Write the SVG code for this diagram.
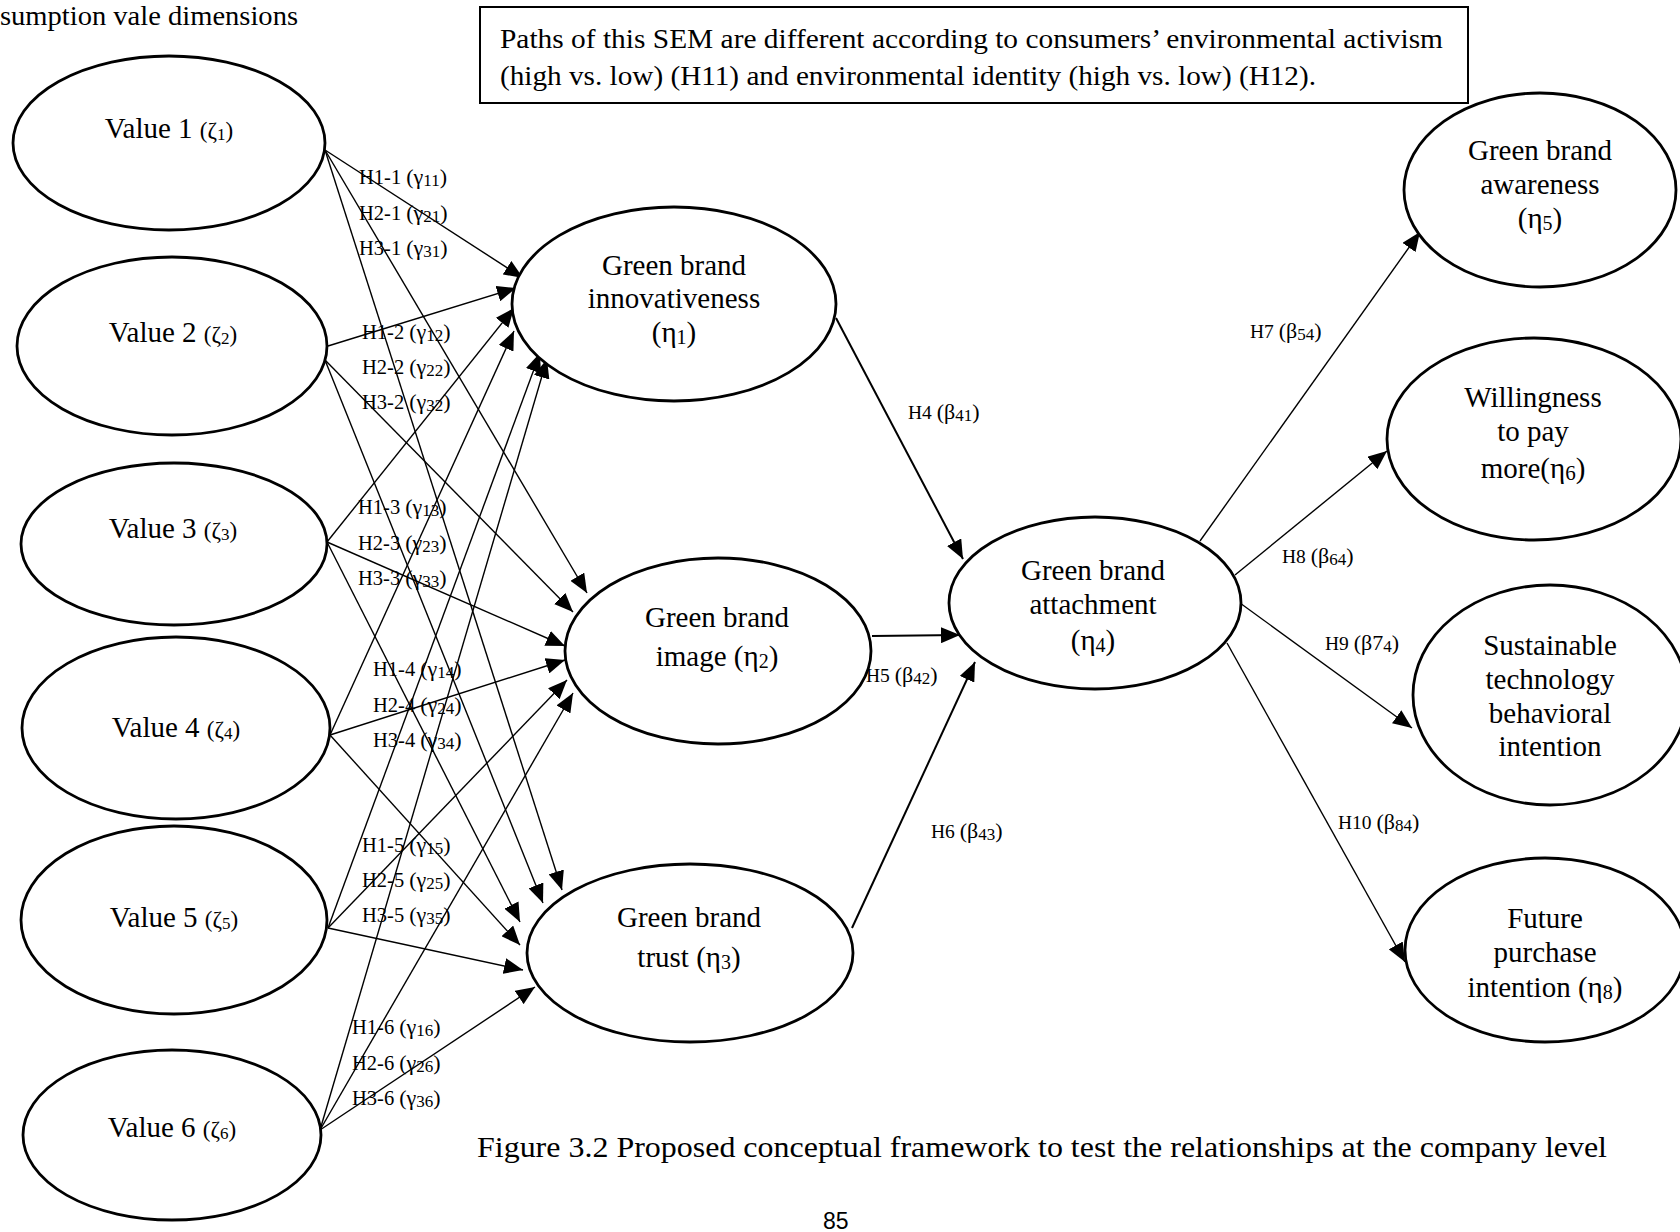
<svg xmlns="http://www.w3.org/2000/svg" width="1680" height="1232" viewBox="0 0 1680 1232">
<style>
.node ellipse{fill:#fff;stroke:#000;stroke-width:2.8}
.t{font-family:"Liberation Serif","Times New Roman",serif;fill:#000}
.nt{font-size:29px;text-anchor:middle}
.el{font-size:20.5px}
.er{font-size:19.5px}
.g{font-size:22px}
.sub{font-size:17px}
.ln{stroke:#000;stroke-width:1.4;fill:none;marker-end:url(#ah)}
.lt{stroke:#000;stroke-width:2;fill:none;marker-end:url(#ah)}
</style>
<defs>
<marker id="ah" markerUnits="userSpaceOnUse" markerWidth="20" markerHeight="16" refX="19" refY="8" orient="auto">
<path d="M0,0 L19,8 L0,16 z" fill="#000"/>
</marker>
</defs>
<rect width="1680" height="1232" fill="#fff"/>

<text class="t" x="0" y="25" font-size="27" textLength="298" lengthAdjust="spacingAndGlyphs">sumption vale dimensions</text>

<g id="note">
<rect x="480" y="7" width="988" height="96" fill="#fff" stroke="#000" stroke-width="2"/>
<text class="t" x="500" y="48" font-size="27" textLength="943" lengthAdjust="spacingAndGlyphs">Paths of this SEM are different according to consumers’ environmental activism</text>
<text class="t" x="500" y="85" font-size="27" textLength="816" lengthAdjust="spacingAndGlyphs">(high vs. low) (H11) and environmental identity (high vs. low) (H12).</text>
</g>

<g id="connectors">
<line class="ln" x1="325" y1="150" x2="523" y2="278"/>
<line class="ln" x1="325" y1="150" x2="587" y2="593"/>
<line class="ln" x1="325" y1="150" x2="562" y2="890"/>
<line class="ln" x1="328" y1="346" x2="516" y2="288"/>
<line class="ln" x1="325" y1="360" x2="573" y2="612"/>
<line class="ln" x1="325" y1="360" x2="543" y2="903"/>
<line class="ln" x1="327" y1="542" x2="514" y2="308"/>
<line class="ln" x1="327" y1="542" x2="565" y2="646"/>
<line class="ln" x1="327" y1="542" x2="520" y2="922"/>
<line class="ln" x1="330" y1="735" x2="514" y2="331"/>
<line class="ln" x1="330" y1="735" x2="565" y2="660"/>
<line class="ln" x1="330" y1="735" x2="520" y2="945"/>
<line class="ln" x1="328" y1="928" x2="540" y2="353"/>
<line class="ln" x1="328" y1="928" x2="567" y2="680"/>
<line class="ln" x1="328" y1="928" x2="523" y2="970"/>
<line class="ln" x1="320" y1="1130" x2="547" y2="359"/>
<line class="ln" x1="320" y1="1130" x2="573" y2="693"/>
<line class="ln" x1="320" y1="1130" x2="535" y2="987"/>
<line class="lt" x1="836" y1="318" x2="963" y2="559"/>
<line class="lt" x1="872" y1="636" x2="960" y2="635"/>
<line class="lt" x1="852" y1="928" x2="975" y2="662"/>
<line class="ln" x1="1200" y1="541" x2="1420" y2="232"/>
<line class="ln" x1="1235" y1="575" x2="1387" y2="451"/>
<line class="ln" x1="1240" y1="603" x2="1412" y2="728"/>
<line class="ln" x1="1227" y1="643" x2="1405" y2="962"/>
</g>

<g id="edge-labels" class="t">
<text class="el" x="359" y="184">H1-1 <tspan class="g">(γ</tspan><tspan class="sub" dy="2">11</tspan><tspan class="g" dy="-2">)</tspan></text>
<text class="el" x="359" y="220">H2-1 <tspan class="g">(γ</tspan><tspan class="sub" dy="2">21</tspan><tspan class="g" dy="-2">)</tspan></text>
<text class="el" x="359" y="255">H3-1 <tspan class="g">(γ</tspan><tspan class="sub" dy="2">31</tspan><tspan class="g" dy="-2">)</tspan></text>
<text class="el" x="362" y="339">H1-2 <tspan class="g">(γ</tspan><tspan class="sub" dy="2">12</tspan><tspan class="g" dy="-2">)</tspan></text>
<text class="el" x="362" y="374">H2-2 <tspan class="g">(γ</tspan><tspan class="sub" dy="2">22</tspan><tspan class="g" dy="-2">)</tspan></text>
<text class="el" x="362" y="409">H3-2 <tspan class="g">(γ</tspan><tspan class="sub" dy="2">32</tspan><tspan class="g" dy="-2">)</tspan></text>
<text class="el" x="358" y="514">H1-3 <tspan class="g">(γ</tspan><tspan class="sub" dy="2">13</tspan><tspan class="g" dy="-2">)</tspan></text>
<text class="el" x="358" y="550">H2-3 <tspan class="g">(γ</tspan><tspan class="sub" dy="2">23</tspan><tspan class="g" dy="-2">)</tspan></text>
<text class="el" x="358" y="585">H3-3 <tspan class="g">(γ</tspan><tspan class="sub" dy="2">33</tspan><tspan class="g" dy="-2">)</tspan></text>
<text class="el" x="373" y="676">H1-4 <tspan class="g">(γ</tspan><tspan class="sub" dy="2">14</tspan><tspan class="g" dy="-2">)</tspan></text>
<text class="el" x="373" y="712">H2-4 <tspan class="g">(γ</tspan><tspan class="sub" dy="2">24</tspan><tspan class="g" dy="-2">)</tspan></text>
<text class="el" x="373" y="747">H3-4 <tspan class="g">(γ</tspan><tspan class="sub" dy="2">34</tspan><tspan class="g" dy="-2">)</tspan></text>
<text class="el" x="362" y="852">H1-5 <tspan class="g">(γ</tspan><tspan class="sub" dy="2">15</tspan><tspan class="g" dy="-2">)</tspan></text>
<text class="el" x="362" y="887">H2-5 <tspan class="g">(γ</tspan><tspan class="sub" dy="2">25</tspan><tspan class="g" dy="-2">)</tspan></text>
<text class="el" x="362" y="922">H3-5 <tspan class="g">(γ</tspan><tspan class="sub" dy="2">35</tspan><tspan class="g" dy="-2">)</tspan></text>
<text class="el" x="352" y="1034">H1-6 <tspan class="g">(γ</tspan><tspan class="sub" dy="2">16</tspan><tspan class="g" dy="-2">)</tspan></text>
<text class="el" x="352" y="1070">H2-6 <tspan class="g">(γ</tspan><tspan class="sub" dy="2">26</tspan><tspan class="g" dy="-2">)</tspan></text>
<text class="el" x="352" y="1105">H3-6 <tspan class="g">(γ</tspan><tspan class="sub" dy="2">36</tspan><tspan class="g" dy="-2">)</tspan></text>
<text class="er" x="908" y="419">H4 <tspan class="g">(β</tspan><tspan class="sub" dy="2">41</tspan><tspan class="g" dy="-2">)</tspan></text>
<text class="er" x="866" y="682">H5 <tspan class="g">(β</tspan><tspan class="sub" dy="2">42</tspan><tspan class="g" dy="-2">)</tspan></text>
<text class="er" x="931" y="838">H6 <tspan class="g">(β</tspan><tspan class="sub" dy="2">43</tspan><tspan class="g" dy="-2">)</tspan></text>
<text class="er" x="1250" y="338">H7 <tspan class="g">(β</tspan><tspan class="sub" dy="2">54</tspan><tspan class="g" dy="-2">)</tspan></text>
<text class="er" x="1282" y="563">H8 <tspan class="g">(β</tspan><tspan class="sub" dy="2">64</tspan><tspan class="g" dy="-2">)</tspan></text>
<text class="er" x="1325" y="650">H9 <tspan class="g">(β7</tspan><tspan class="sub" dy="2">4</tspan><tspan class="g" dy="-2">)</tspan></text>
<text class="er" x="1338" y="829">H10 <tspan class="g">(β</tspan><tspan class="sub" dy="2">84</tspan><tspan class="g" dy="-2">)</tspan></text>
</g>

<g id="v1" class="node"><ellipse cx="169" cy="143" rx="156" ry="87"/>
<text class="t nt" x="169" y="138">Value 1 <tspan font-size="23">(ζ</tspan><tspan class="sub" dy="2">1</tspan><tspan font-size="23" dy="-2">)</tspan></text></g>
<g id="v2" class="node"><ellipse cx="172" cy="346" rx="155" ry="89"/>
<text class="t nt" x="173" y="342">Value 2 <tspan font-size="23">(ζ</tspan><tspan class="sub" dy="2">2</tspan><tspan font-size="23" dy="-2">)</tspan></text></g>
<g id="v3" class="node"><ellipse cx="174" cy="544" rx="153" ry="81"/>
<text class="t nt" x="173" y="538">Value 3 <tspan font-size="23">(ζ</tspan><tspan class="sub" dy="2">3</tspan><tspan font-size="23" dy="-2">)</tspan></text></g>
<g id="v4" class="node"><ellipse cx="176" cy="728" rx="154" ry="91"/>
<text class="t nt" x="176" y="737">Value 4 <tspan font-size="23">(ζ</tspan><tspan class="sub" dy="2">4</tspan><tspan font-size="23" dy="-2">)</tspan></text></g>
<g id="v5" class="node"><ellipse cx="174" cy="920" rx="153" ry="94"/>
<text class="t nt" x="174" y="927">Value 5 <tspan font-size="23">(ζ</tspan><tspan class="sub" dy="2">5</tspan><tspan font-size="23" dy="-2">)</tspan></text></g>
<g id="v6" class="node"><ellipse cx="172" cy="1135" rx="149" ry="85"/>
<text class="t nt" x="172" y="1137">Value 6 <tspan font-size="23">(ζ</tspan><tspan class="sub" dy="2">6</tspan><tspan font-size="23" dy="-2">)</tspan></text></g>

<g id="n1" class="node"><ellipse cx="674" cy="304" rx="162" ry="97"/>
<text class="t nt" x="674" y="275">Green brand</text>
<text class="t nt" x="674" y="308">innovativeness</text>
<text class="t nt" x="674" y="342">(η<tspan font-size="20" dy="2">1</tspan><tspan dy="-2">)</tspan></text></g>
<g id="n2" class="node"><ellipse cx="718" cy="651" rx="153" ry="93"/>
<text class="t nt" x="717" y="627">Green brand</text>
<text class="t nt" x="717" y="666">image (η<tspan font-size="20" dy="2">2</tspan><tspan dy="-2">)</tspan></text></g>
<g id="n3" class="node"><ellipse cx="690" cy="953" rx="163" ry="89"/>
<text class="t nt" x="689" y="927">Green brand</text>
<text class="t nt" x="689" y="967">trust (η<tspan font-size="20" dy="2">3</tspan><tspan dy="-2">)</tspan></text></g>
<g id="n4" class="node"><ellipse cx="1095" cy="603" rx="146" ry="86"/>
<text class="t nt" x="1093" y="580">Green brand</text>
<text class="t nt" x="1093" y="614">attachment</text>
<text class="t nt" x="1093" y="650">(η<tspan font-size="20" dy="2">4</tspan><tspan dy="-2">)</tspan></text></g>
<g id="n5" class="node"><ellipse cx="1540" cy="190" rx="136" ry="97"/>
<text class="t nt" x="1540" y="160">Green brand</text>
<text class="t nt" x="1540" y="194">awareness</text>
<text class="t nt" x="1540" y="228">(η<tspan font-size="20" dy="2">5</tspan><tspan dy="-2">)</tspan></text></g>
<g id="n6" class="node"><ellipse cx="1534" cy="439" rx="147" ry="101"/>
<text class="t nt" x="1533" y="407" font-size="31">Willingness</text>
<text class="t nt" x="1533" y="441" font-size="31">to pay</text>
<text class="t nt" x="1533" y="478" font-size="31">more(η<tspan font-size="21" dy="2">6</tspan><tspan dy="-2">)</tspan></text></g>
<g id="n7" class="node"><ellipse cx="1550" cy="695" rx="137" ry="110"/>
<text class="t nt" x="1550" y="655">Sustainable</text>
<text class="t nt" x="1550" y="689">technology</text>
<text class="t nt" x="1550" y="723">behavioral</text>
<text class="t nt" x="1550" y="756">intention</text></g>
<g id="n8" class="node"><ellipse cx="1545" cy="950" rx="140" ry="92"/>
<text class="t nt" x="1545" y="928">Future</text>
<text class="t nt" x="1545" y="962">purchase</text>
<text class="t nt" x="1545" y="997">intention (η<tspan font-size="20" dy="2">8</tspan><tspan dy="-2">)</tspan></text></g>

<text class="t" x="477" y="1157" font-size="30" textLength="1130" lengthAdjust="spacingAndGlyphs">Figure 3.2 Proposed conceptual framework to test the relationships at the company level</text>
<text x="823" y="1229" font-family="Liberation Sans, Arial, sans-serif" font-size="23" fill="#000">85</text>
</svg>
